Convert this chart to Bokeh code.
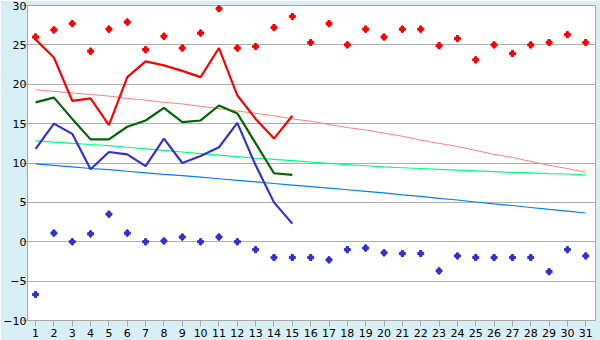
from bokeh.plotting import figure
from bokeh.models import Range1d, FixedTicker
from bokeh.embed import file_html
from bokeh.resources import INLINE

days = list(range(1, 32))
line_days = list(range(1, 16))

max_points = [26.0, 26.9, 27.7, 24.2, 27.0, 27.9, 24.4, 26.1, 24.6, 26.5, 29.6, 24.6, 24.8, 27.2, 28.6,
              25.3, 27.7, 25.0, 27.0, 26.0, 27.0, 27.0, 24.9, 25.8, 23.1, 25.0, 23.9, 25.0, 25.3, 26.3, 25.3]
min_points = [-6.7, 1.1, 0.0, 1.0, 3.5, 1.1, 0.0, 0.1, 0.6, 0.0, 0.6, 0.0, -1.0, -2.0, -2.0,
              -2.0, -2.3, -1.0, -0.8, -1.4, -1.5, -1.5, -3.7, -1.8, -2.0, -2.0, -2.0, -2.0, -3.8, -1.0, -1.8]

red_line = [25.7, 23.4, 17.9, 18.2, 14.8, 20.9, 22.9, 22.4, 21.7, 20.9, 24.6, 18.6, 15.6, 13.1, 16.0]
green_line = [17.7, 18.3, 15.6, 13.0, 13.0, 14.6, 15.4, 17.0, 15.2, 15.4, 17.3, 16.3, 12.5, 8.7, 8.5]
blue_line = [11.8, 15.0, 13.7, 9.2, 11.4, 11.1, 9.6, 13.1, 10.0, 10.9, 12.0, 15.1, 9.7, 5.0, 2.3]

normal_high = [19.3, 19.1, 18.9, 18.7, 18.5, 18.2, 18.0, 17.7, 17.5, 17.2, 16.9, 16.6, 16.3, 16.0, 15.6,
               15.3, 14.9, 14.5, 14.2, 13.8, 13.4, 12.9, 12.5, 12.1, 11.6, 11.1, 10.7, 10.2, 9.7, 9.3, 8.8]
normal_mid = [12.8, 12.65, 12.5, 12.35, 12.2, 12.0, 11.8, 11.6, 11.4, 11.2, 11.0, 10.8, 10.6, 10.45, 10.3,
              10.1, 9.95, 9.8, 9.65, 9.5, 9.4, 9.3, 9.2, 9.1, 9.0, 8.9, 8.8, 8.75, 8.65, 8.6, 8.5]
normal_low = [9.9, 9.7, 9.5, 9.3, 9.15, 8.95, 8.75, 8.55, 8.4, 8.2, 8.0, 7.8, 7.6, 7.4, 7.2,
              7.0, 6.8, 6.6, 6.4, 6.2, 5.95, 5.75, 5.5, 5.3, 5.05, 4.8, 4.6, 4.35, 4.1, 3.9, 3.65]

y_ticks = [-10, -5, 0, 5, 10, 15, 20, 25, 30]

p = figure(width=600, height=340, output_backend="svg", toolbar_location=None,
           x_range=Range1d(0.56, 31.53), y_range=Range1d(-10, 30),
           min_border_left=27, min_border_right=5, min_border_top=5, min_border_bottom=20)

p.background_fill_color = "white"
p.border_fill_color = "#d9eff6"
p.outline_line_color = "#a8a8a8"
p.outline_line_width = 1

p.xgrid.visible = False
p.ygrid.ticker = FixedTicker(ticks=y_ticks)
p.ygrid.grid_line_color = "#b0b0b0"
p.ygrid.grid_line_width = 1

for ax in (p.xaxis[0], p.yaxis[0]):
    ax.axis_line_color = "#a8a8a8"
    ax.major_tick_line_color = "#a8a8a8"
    ax.minor_tick_line_color = None
    ax.major_tick_in = 0
    ax.major_label_text_font = "DejaVu Sans"
    ax.major_label_text_font_size = "11px"
    ax.major_label_text_color = "black"

p.xaxis.ticker = FixedTicker(ticks=days)
p.xaxis.major_tick_out = 6
p.xaxis.major_label_standoff = 2
p.yaxis.ticker = FixedTicker(ticks=y_ticks)
p.yaxis.major_tick_out = 5
p.yaxis.major_label_standoff = -4

# normals
p.line(days, normal_high, line_color="#ff8080", line_width=1)
p.line(days, normal_mid, line_color="#00ff80", line_width=1.2)
p.line(days, normal_low, line_color="#0080ff", line_width=1.2)

# daily lines
p.line(line_days, red_line, line_color="#ff0000", line_width=2.2)
p.line(line_days, green_line, line_color="#006600", line_width=2.2)
p.line(line_days, blue_line, line_color="#3333cc", line_width=2.2)

# extreme points
p.scatter(days, max_points, marker="diamond", size=7, fill_color="#ff0000", line_color="#ff0000")
p.scatter(days, max_points, marker="plus", size=6, fill_color="#ff0000", line_color="#ff0000")
p.scatter(days, min_points, marker="diamond", size=7, fill_color="#3333cc", line_color="#3333cc")
p.scatter(days, min_points, marker="plus", size=6, fill_color="#3333cc", line_color="#3333cc")

open("out.html", "w").write(file_html(p, INLINE))
